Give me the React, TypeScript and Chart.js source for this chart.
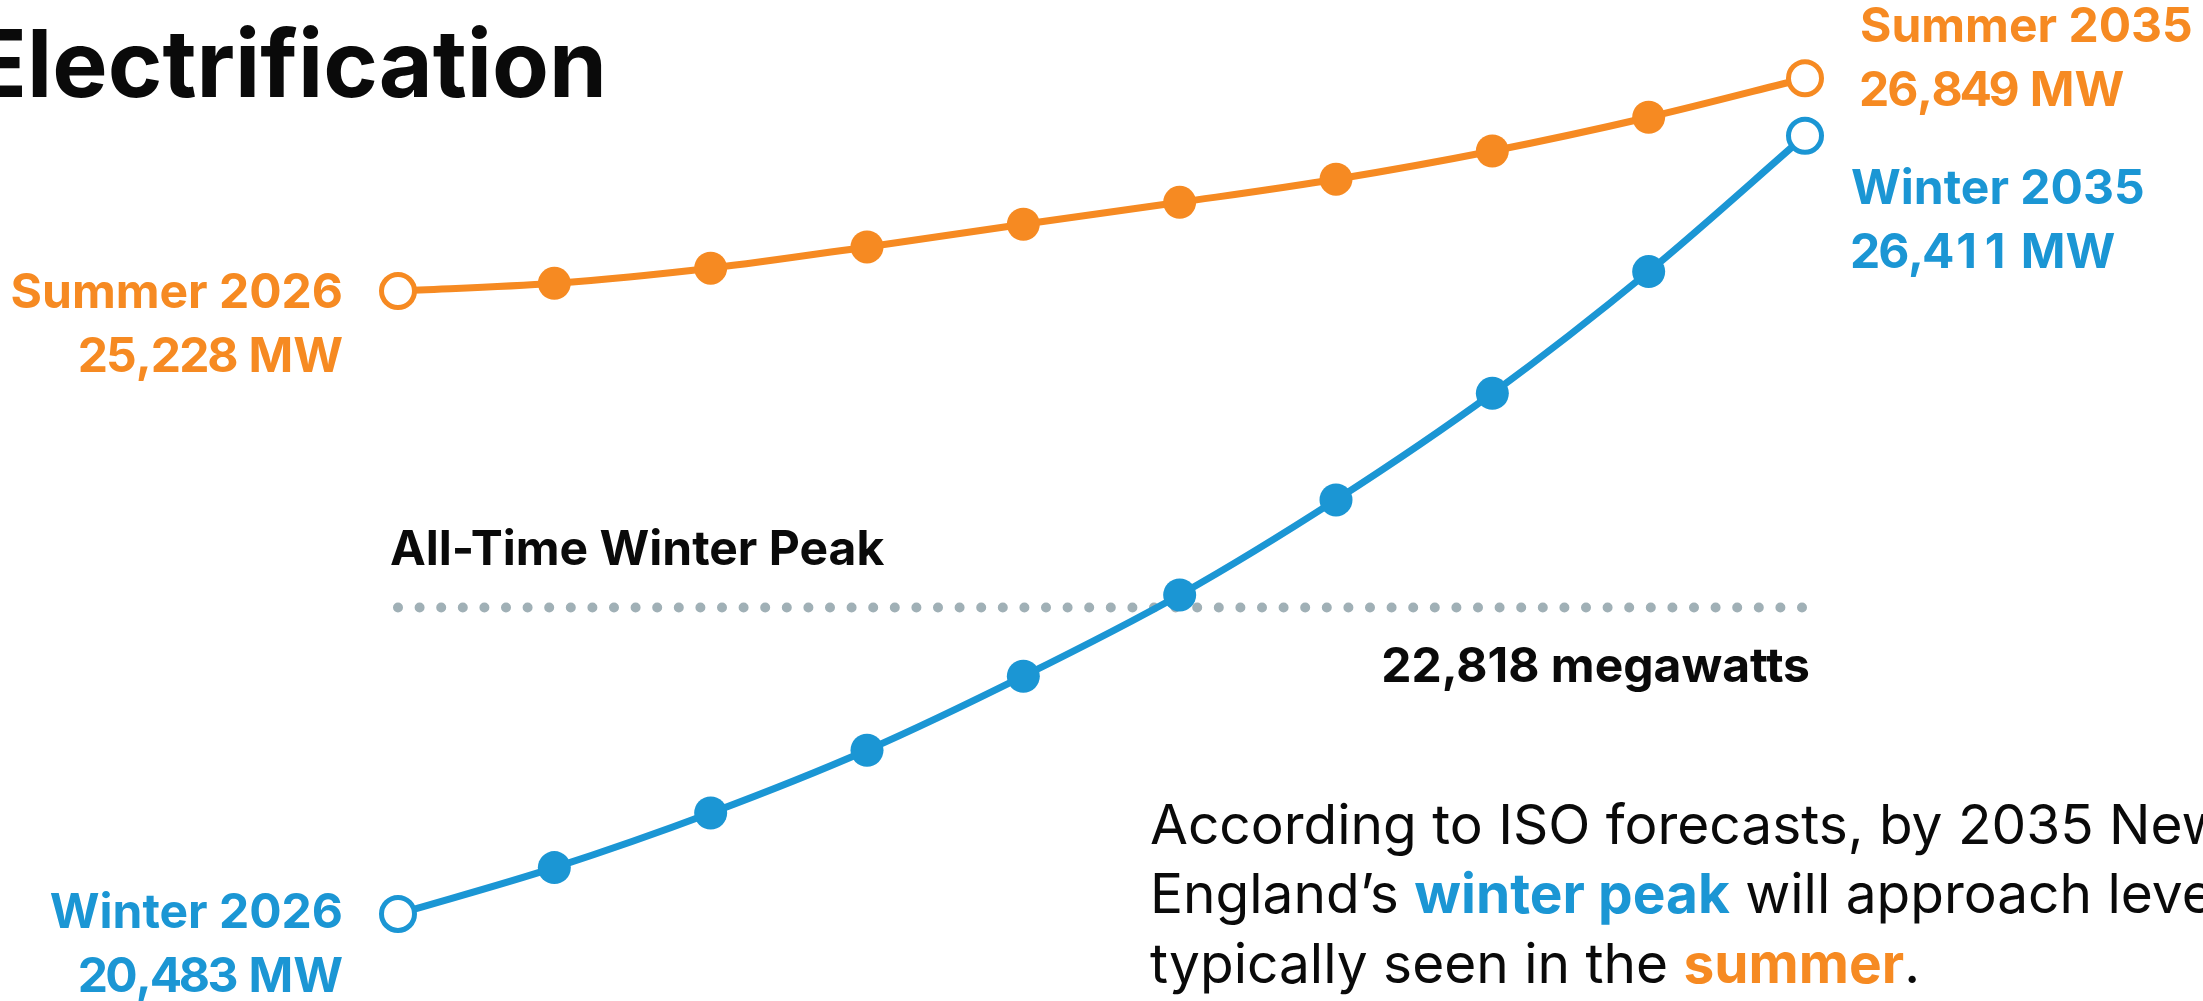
import React, { useEffect, useRef } from "react";
import { Chart, registerables } from "chart.js";

Chart.register(...registerables);

// ---- data ----
const YEARS = ["2026", "2027", "2028", "2029", "2030", "2031", "2032", "2033", "2034", "2035"];
const SUMMER_MW = [25228, 25287, 25402, 25564, 25737, 25904, 26080, 26295, 26552, 26849];
const WINTER_MW = [20483, 20836, 21252, 21730, 22294, 22913, 23637, 24449, 25376, 26411];
const PEAK_MW = 22818;
const PEAK_LINE = [22818, 22818, 22818, 22818, 22818, 22818, 22818, 22818, 22818, 22818];

const TITLE = "Electrification";
const SUMMER_START = ["Summer 2026", "25,228 MW"];
const WINTER_START = ["Winter 2026", "20,483 MW"];
const SUMMER_END = ["Summer 2035", "26,849 MW"];
const WINTER_END = ["Winter 2035", "26,411 MW"];
const PEAK_LABEL = "All-Time Winter Peak";
const PEAK_VALUE = "22,818 megawatts";
const PARAGRAPH: { t: string; k: "n" | "w" | "s" }[][] = [
  [{ t: "According to ISO forecasts, by 2035 New", k: "n" }],
  [
    { t: "England\u2019s ", k: "n" },
    { t: "winter peak", k: "w" },
    { t: " will approach levels", k: "n" },
  ],
  [
    { t: "typically seen in the ", k: "n" },
    { t: "summer", k: "s" },
    { t: ".", k: "n" },
  ],
];

// ---- styles ----
const ORANGE = "#F68A22";
const BLUE = "#1B96D4";
const GRAY = "#A0B0B6";
const FONT = "Inter";

function hollowEnds(color: string) {
  return YEARS.map((_, i) => (i === 0 || i === YEARS.length - 1 ? "#ffffff" : color));
}
function endBorders() {
  return YEARS.map((_, i) => (i === 0 || i === YEARS.length - 1 ? 5 : 0));
}

// draw text with equal-width (tabular) digits
function drawTab(ctx: CanvasRenderingContext2D, text: string, x: number, y: number, align: "left" | "right") {
  const dw = ctx.measureText("0").width * 0.88;
  const chars = Array.from(text);
  const widths = chars.map((c) => (/[0-9]/.test(c) ? dw : ctx.measureText(c).width));
  const total = widths.reduce((a, b) => a + b, 0);
  let cx = align === "right" ? x - total : x;
  ctx.textAlign = "left";
  chars.forEach((c, i) => {
    const off = /[0-9]/.test(c) ? (dw - ctx.measureText(c).width) / 2 : 0;
    ctx.fillText(c, cx + off, y);
    cx += widths[i];
  });
}

const labelsPlugin = {
  id: "annotLabels",
  afterDatasetsDraw(chart: any) {
    const ctx: CanvasRenderingContext2D = chart.ctx;
    const xs = chart.scales.x;
    const ys = chart.scales.y;
    const x0 = xs.getPixelForValue(0);
    const xN = xs.getPixelForValue(YEARS.length - 1);
    const n = YEARS.length - 1;
    ctx.save();
    ctx.textBaseline = "alphabetic";

    // title (clipped at left edge)
    ctx.fillStyle = "#0a0a0a";
    ctx.font = `bold 93px ${FONT}`;
    ctx.textAlign = "right";
    ctx.fillText(TITLE, 607, 97);

    const lab = `bold 48px ${FONT}`;
    ctx.font = lab;

    // start labels
    ctx.textAlign = "right";
    ctx.fillStyle = ORANGE;
    let yy = ys.getPixelForValue(SUMMER_MW[0]);
    ctx.fillText(SUMMER_START[0], x0 - 55, yy + 17);
    drawTab(ctx, SUMMER_START[1], x0 - 55, yy + 81, "right");
    ctx.fillStyle = BLUE;
    yy = ys.getPixelForValue(WINTER_MW[0]);
    ctx.textAlign = "right";
    ctx.fillText(WINTER_START[0], x0 - 55, yy + 14);
    drawTab(ctx, WINTER_START[1], x0 - 55, yy + 78, "right");

    // end labels
    ctx.textAlign = "left";
    ctx.fillStyle = ORANGE;
    yy = ys.getPixelForValue(SUMMER_MW[n]);
    ctx.fillText(SUMMER_END[0], xN + 55, yy - 36);
    drawTab(ctx, SUMMER_END[1], xN + 55, yy + 28, "left");
    ctx.fillStyle = BLUE;
    yy = ys.getPixelForValue(WINTER_MW[n]);
    ctx.fillText(WINTER_END[0], xN + 46, yy + 68);
    drawTab(ctx, WINTER_END[1], xN + 46, yy + 132, "left");

    // peak labels
    const yp = ys.getPixelForValue(PEAK_MW);
    ctx.fillStyle = "#0a0a0a";
    ctx.textAlign = "left";
    ctx.fillText(PEAK_LABEL, x0 - 8, yp - 42);
    ctx.textAlign = "right";
    ctx.fillText(PEAK_VALUE, xN + 5, yp + 75);

    // paragraph
    ctx.textAlign = "left";
    const baselines = [844, 913, 983];
    PARAGRAPH.forEach((line, li) => {
      let cx = 1150;
      line.forEach((run) => {
        if (run.k === "n") {
          ctx.font = `55px ${FONT}`;
          ctx.fillStyle = "#0a0a0a";
        } else {
          ctx.font = `bold 55px ${FONT}`;
          ctx.fillStyle = run.k === "w" ? BLUE : ORANGE;
        }
        ctx.fillText(run.t, cx, baselines[li]);
        cx += ctx.measureText(run.t).width;
      });
    });
    ctx.restore();
  },
};

export default function App() {
  const ref = useRef<HTMLCanvasElement | null>(null);
  useEffect(() => {
    document.body.style.margin = "0";
    const canvas = ref.current!;
    const chart = new Chart(canvas, {
      type: "line",
      data: {
        labels: YEARS,
        datasets: [
          {
            label: "Summer",
            data: SUMMER_MW,
            borderColor: ORANGE,
            borderWidth: 7,
            pointRadius: 16.5,
            pointHoverRadius: 16.5,
            pointBackgroundColor: hollowEnds(ORANGE),
            pointBorderColor: ORANGE,
            pointBorderWidth: endBorders(),
            cubicInterpolationMode: "monotone",
            order: 1,
            clip: false,
          } as any,
          {
            label: "Winter",
            data: WINTER_MW,
            borderColor: BLUE,
            borderWidth: 7,
            pointRadius: 16.5,
            pointHoverRadius: 16.5,
            pointBackgroundColor: hollowEnds(BLUE),
            pointBorderColor: BLUE,
            pointBorderWidth: endBorders(),
            cubicInterpolationMode: "monotone",
            order: 2,
            clip: false,
          } as any,
          {
            label: "All-Time Winter Peak",
            data: PEAK_LINE,
            borderColor: GRAY,
            borderWidth: 10,
            borderDash: [0, 21.6],
            borderCapStyle: "round",
            pointRadius: 0,
            tension: 0,
            order: 3,
            clip: false,
          } as any,
        ],
      },
      options: {
        responsive: false,
        animation: false,
        devicePixelRatio: 1,
        layout: { autoPadding: false, padding: { left: 398, right: 398, top: 0, bottom: 0 } },
        scales: {
          x: { display: false, offset: false },
          y: { display: false, min: 19820, max: 27445 },
        },
        plugins: { legend: { display: false }, tooltip: { enabled: false } },
        events: [],
      },
      plugins: [labelsPlugin],
    });
    return () => chart.destroy();
  }, []);
  return (
    <div style={{ position: "fixed", left: 0, top: 0, width: 2203, height: 1001, background: "#fff" }}>
      <canvas ref={ref} width={2203} height={1001} style={{ display: "block" }} />
    </div>
  );
}
